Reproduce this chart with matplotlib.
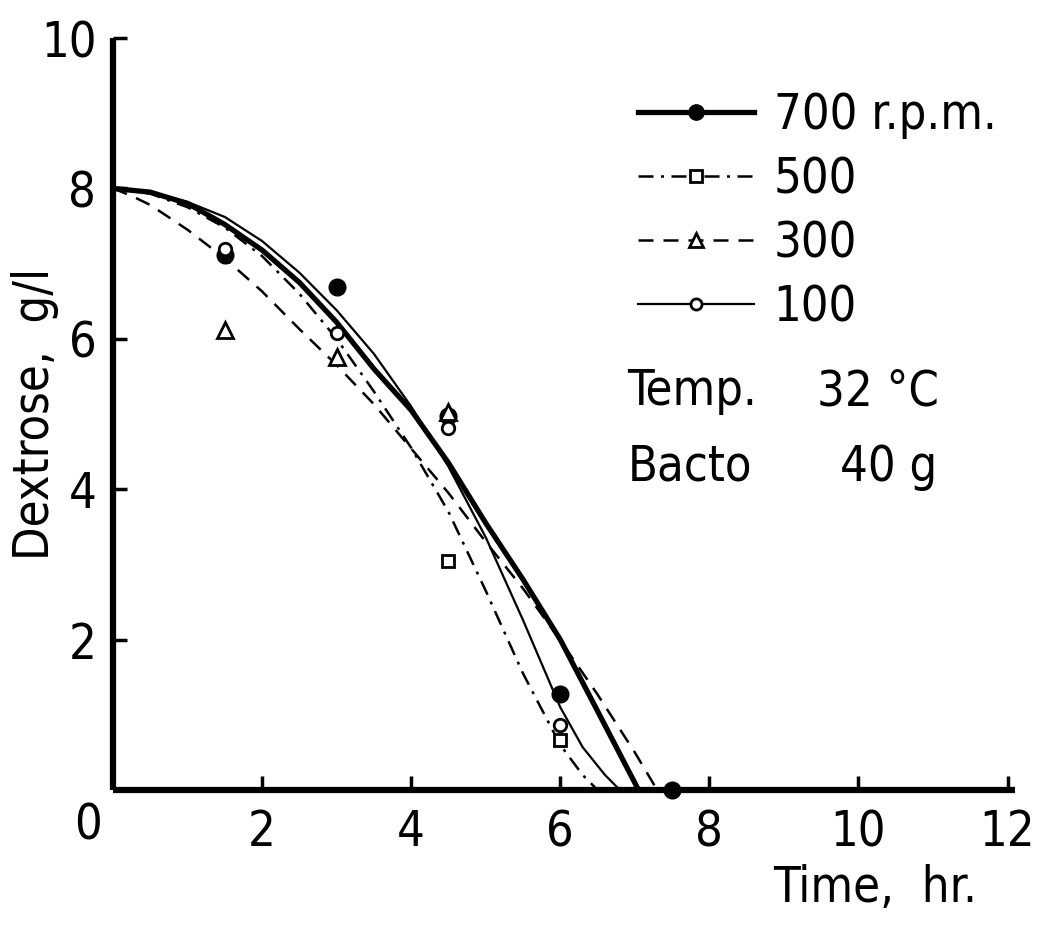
import numpy as np
import matplotlib
matplotlib.use("Agg")
import matplotlib.pyplot as plt
from matplotlib.lines import Line2D

plt.rcParams['font.family'] = ['DejaVu Sans']
plt.rcParams['font.stretch'] = 'condensed'

# Fitted curves (time in hr, dextrose in g/l)
t_700 = [0, 0.5, 1.0, 1.5, 2.0, 2.5, 3.0, 3.5, 4.0, 4.5, 5.0, 5.5, 6.0, 6.5, 7.05]
d_700 = [8.0, 7.95, 7.8, 7.52, 7.18, 6.75, 6.22, 5.6, 5.05, 4.35, 3.55, 2.8, 2.0, 1.05, 0.0]

t_500 = [0, 0.5, 1.0, 1.5, 2.0, 2.5, 3.0, 3.5, 4.0, 4.5, 5.0, 5.5, 6.0, 6.3, 6.5]
d_500 = [8.0, 7.93, 7.75, 7.48, 7.1, 6.6, 6.0, 5.3, 4.55, 3.7, 2.65, 1.55, 0.6, 0.2, 0.0]

t_300 = [0, 0.25, 0.5, 1.0, 1.5, 2.0, 2.5, 3.0, 3.5, 4.0, 4.5, 5.0, 5.5, 6.0, 6.5, 7.0, 7.3]
d_300 = [8.0, 7.9, 7.78, 7.45, 7.07, 6.63, 6.13, 5.65, 5.13, 4.54, 3.95, 3.3, 2.68, 1.99, 1.27, 0.5, 0.0]

t_100 = [0, 0.5, 1.0, 1.5, 2.0, 2.5, 3.0, 3.5, 4.0, 4.5, 5.0, 5.5, 6.0, 6.3, 6.6, 6.8]
d_100 = [8.0, 7.95, 7.82, 7.62, 7.3, 6.88, 6.38, 5.8, 5.1, 4.3, 3.36, 2.26, 1.1, 0.57, 0.2, 0.0]

# Measured points
pt_700_t = [1.5, 3.0, 4.5, 6.0, 7.5]
pt_700_d = [7.11, 6.69, 4.97, 1.28, 0.0]
pt_500_t = [4.5, 6.0]
pt_500_d = [3.05, 0.66]
pt_300_t = [1.5, 3.0, 4.5]
pt_300_d = [6.12, 5.76, 5.02]
pt_100_t = [1.5, 3.0, 4.5, 6.0]
pt_100_d = [7.2, 6.08, 4.82, 0.86]

x_ticks = [2, 4, 6, 8, 10, 12]
y_ticks = [2, 4, 6, 8, 10]

FS = 35

fig = plt.figure(figsize=(10.38, 9.31), dpi=100)
ax = fig.add_axes([113 / 1038, 141 / 931, 902 / 1038, 752 / 931])

dashdot = (0, (6, 3, 1.2, 3))
dashed = (0, (6, 4))

ax.plot(t_700, d_700, color='black', lw=3.8, solid_capstyle='butt')
ax.plot(t_500, d_500, color='black', lw=1.8, linestyle=dashdot)
ax.plot(t_300, d_300, color='black', lw=1.8, linestyle=dashed)
ax.plot(t_100, d_100, color='black', lw=1.6)

ax.plot(pt_700_t, pt_700_d, 'o', color='black', ms=12, clip_on=False, zorder=5)
ax.plot(pt_500_t, pt_500_d, 's', mfc='white', mec='black', mew=2, ms=9, zorder=5)
ax.plot(pt_300_t, pt_300_d, '^', mfc='white', mec='black', mew=2, ms=11, zorder=5)
ax.plot(pt_100_t, pt_100_d, 'o', mfc='white', mec='black', mew=2, ms=9, zorder=6)

ax.set_xlim(0, 12.1)
ax.set_ylim(0, 10)
ax.set_xticks(x_ticks)
ax.set_yticks(y_ticks)
ax.tick_params(direction='in', length=10, width=2.5, labelsize=FS)
ax.tick_params(axis='x', pad=13)
ax.tick_params(axis='y', pad=12)
for s in ['top', 'right']:
    ax.spines[s].set_visible(False)
for s in ['left', 'bottom']:
    ax.spines[s].set_linewidth(4.5)
    ax.spines[s].set_capstyle('butt')

ax.text(-0.33, -0.47, '0', fontsize=FS, ha='center', va='center')
ax.set_ylabel('Dextrose,  g/l', fontsize=FS)
ax.yaxis.set_label_coords(-0.06, 0.5)
ax.text(8.85, -1.3, 'Time,  hr.', fontsize=FS, ha='left', va='center')

handles = [
    Line2D([], [], color='black', lw=3.8, marker='o', ms=11),
    Line2D([], [], color='black', lw=1.8, linestyle=dashdot, marker='s',
           mfc='white', mec='black', mew=2, ms=9),
    Line2D([], [], color='black', lw=1.8, linestyle=dashed, marker='^',
           mfc='white', mec='black', mew=2, ms=10),
    Line2D([], [], color='black', lw=1.6, marker='o', mfc='white',
           mec='black', mew=2, ms=8),
]
labels = ['700 r.p.m.', '500', '300', '100']
ax.legend(handles, labels, loc='upper left', bbox_to_anchor=(0.56, 0.955),
          frameon=False, fontsize=FS, handlelength=2.4, handletextpad=0.4,
          labelspacing=0.33, numpoints=1, borderaxespad=0)

ax.text(6.9, 5.3, 'Temp.', fontsize=FS, ha='left', va='center')
ax.text(9.45, 5.3, '32 °C', fontsize=FS, ha='left', va='center')
ax.text(6.9, 4.3, 'Bacto', fontsize=FS, ha='left', va='center')
ax.text(9.75, 4.3, '40 g', fontsize=FS, ha='left', va='center')

fig.savefig('out.png', dpi=100)
